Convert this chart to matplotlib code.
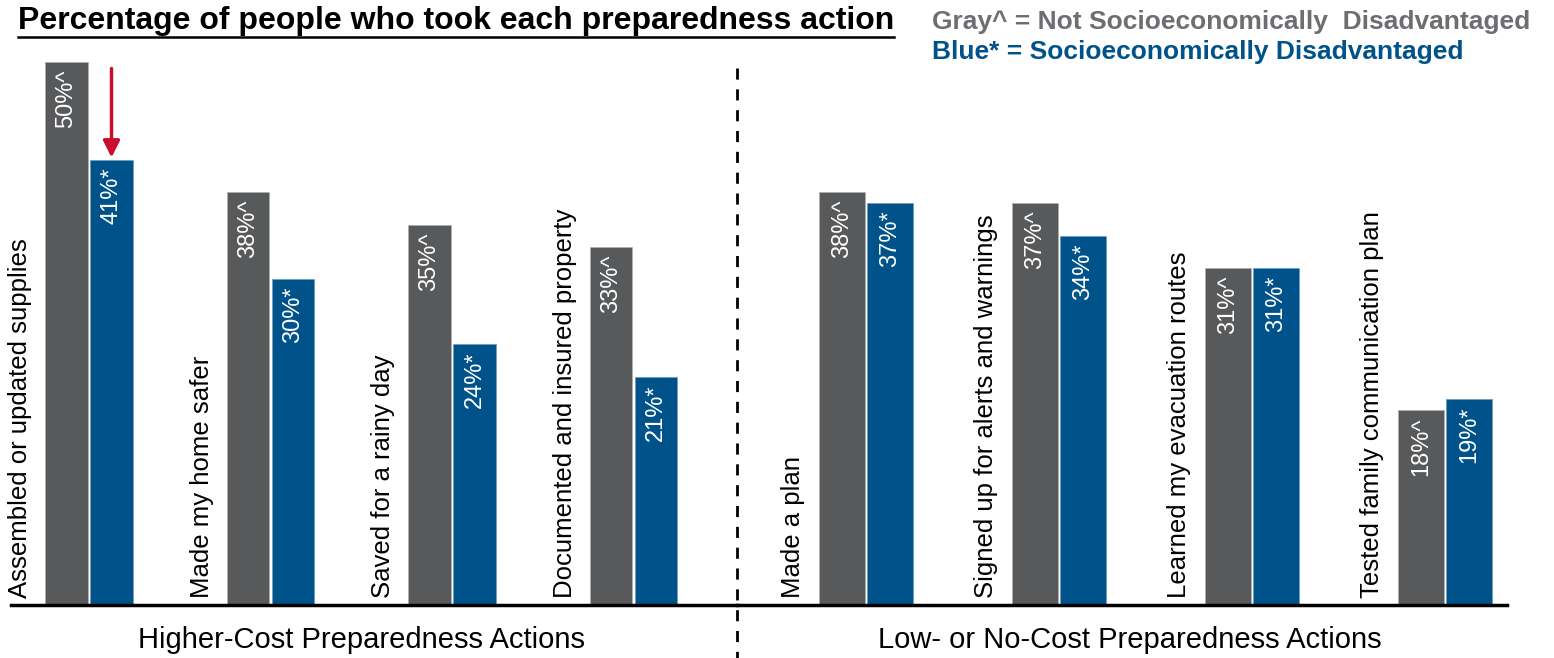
import matplotlib.pyplot as plt
import numpy as np

# data
left_cats = ['Assembled or updated supplies', 'Made my home safer',
             'Saved for a rainy day', 'Documented and insured property']
left_gray = [50, 38, 35, 33]
left_blue = [41, 30, 24, 21]

right_cats = ['Made a plan', 'Signed up for alerts and warnings',
              'Learned my evacuation routes', 'Tested family communication plan']
right_gray = [38, 37, 31, 18]
right_blue = [37, 34, 31, 19]

group_labels = ['Higher-Cost Preparedness Actions', 'Low- or No-Cost Preparedness Actions']

GRAY = '#58595b'
BLUE = '#00538a'
W, H = 1554, 658

plt.rcParams['font.family'] = ['Liberation Sans', 'DejaVu Sans']

fig = plt.figure(figsize=(W / 100, H / 100), dpi=100)


def fx(px):
    return px / W


def fy(py):
    return 1 - py / H


base_y = 605
top_y = 62
ymax = 50


def panel(x0, x1, c0, step, cats, gray, blue):
    ax = fig.add_axes([fx(x0), fy(base_y), fx(x1 - x0), (base_y - top_y) / H])
    ax.set_xlim((x0 - c0) / step, (x1 - c0) / step)
    ax.set_ylim(0, ymax)
    x = np.arange(len(cats))
    off, bw = 0.124, 0.236
    ax.bar(x - off, gray, bw, color=GRAY, edgecolor='#b0b0b0', linewidth=0.5)
    ax.bar(x + off, blue, bw, color=BLUE, edgecolor='#6f9cc0', linewidth=0.5)
    for i in range(len(cats)):
        ax.text(x[i] - off, gray[i] - 0.7, f'{gray[i]}%^', rotation=90, ha='center', va='top',
                color='white', fontsize=17)
        ax.text(x[i] + off, blue[i] - 0.7, f'{blue[i]}%*', rotation=90, ha='center', va='top',
                color='white', fontsize=17)
        ax.text(x[i] - 0.38, 0.6, cats[i], rotation=90, ha='center', va='bottom',
                fontsize=18.5, color='black')
    for s in ['left', 'right', 'top']:
        ax.spines[s].set_visible(False)
    ax.spines['bottom'].set_linewidth(2.5)
    ax.set_xticks([])
    ax.set_yticks([])
    ax.patch.set_alpha(0)
    return ax


axl = panel(11, 737, 89, 181.5, left_cats, left_gray, left_blue)
axr = panel(737, 1507, 866, 193, right_cats, right_gray, right_blue)

# red arrow pointing at the drop
axl.annotate('', xy=(0.124, left_blue[0] + 0.2), xytext=(0.124, 49.4),
             arrowprops=dict(arrowstyle='-|>', color='#c8102e', lw=2.5,
                             mutation_scale=25, shrinkA=0, shrinkB=0))

# dashed divider
fig.add_artist(plt.Line2D([fx(737), fx(737)], [fy(68), fy(658)], color='black',
                          lw=2, linestyle=(0, (4, 3.5))))

# group labels
fig.text(fx(362), fy(640), group_labels[0], ha='center', va='center', fontsize=21)
fig.text(fx(1130), fy(640), group_labels[1], ha='center', va='center', fontsize=21)

# title with underline
t = fig.text(fx(18), fy(21), 'Percentage of people who took each preparedness action',
             ha='left', va='center', fontsize=23, fontweight='bold')
fig.canvas.draw()
bb = t.get_window_extent(fig.canvas.get_renderer())
fig.add_artist(plt.Line2D([bb.x0 / W, bb.x1 / W], [fy(37), fy(37)], color='black', lw=1.8))

# legend text
fig.text(fx(932), fy(22), 'Gray^ = Not Socioeconomically  Disadvantaged', ha='left', va='center',
         fontsize=19, fontweight='bold', color='#6d6e71')
fig.text(fx(932), fy(52), 'Blue* = Socioeconomically Disadvantaged', ha='left', va='center',
         fontsize=19, fontweight='bold', color=BLUE)

plt.savefig('out.png', dpi=100)
